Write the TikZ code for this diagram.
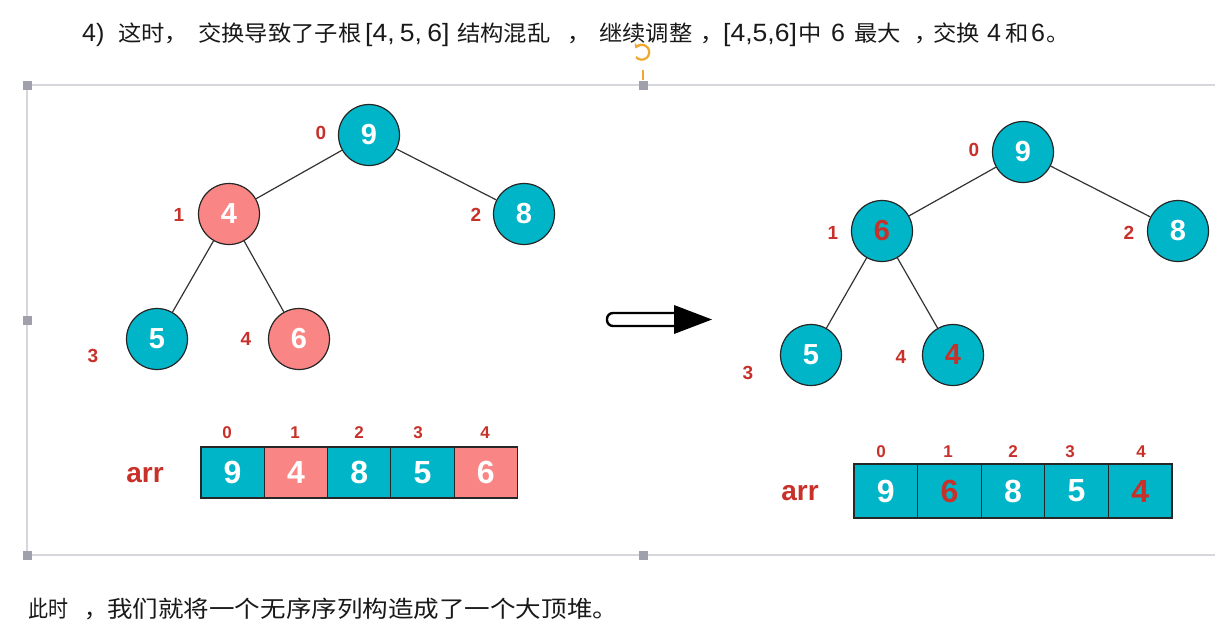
\documentclass[tikz,border=0pt]{standalone}
\usepackage{fontspec}
\setmainfont{Liberation Sans}
\newfontfamily\cjk{Noto Sans CJK SC}
\usepackage{graphicx}
\usetikzlibrary{arrows.meta}
\definecolor{heapteal}{RGB}{0,181,199}
\definecolor{heappink}{RGB}{250,133,133}
\definecolor{idxred}{RGB}{200,48,42}
\definecolor{framegray}{RGB}{214,214,220}
\definecolor{handlegray}{RGB}{160,160,172}
\definecolor{rotorange}{RGB}{242,168,48}
\newcommand\ttlcjk[1]{\scalebox{1.06}[1]{\cjk\fontsize{22}{22}\selectfont #1}}
\newcommand\ttllat[1]{{\fontsize{25}{25}\selectfont #1}}
\begin{document}
\begin{tikzpicture}[x=1pt,y=-1pt,
  hnode/.style={circle, draw=black!85, line width=1.2pt, minimum size=61pt, inner sep=0pt,
    font=\fontsize{29}{29}\selectfont\bfseries, text=white},
  tealnode/.style={hnode, fill=heapteal},
  pinknode/.style={hnode, fill=heappink},
  idx/.style={text=idxred, inner sep=0pt, font=\fontsize{19}{19}\selectfont\bfseries},
  aidx/.style={text=idxred, inner sep=0pt, font=\fontsize{17}{17}\selectfont\bfseries},
  edge/.style={draw=black!80, line width=1.2pt},
  cellL/.style={rectangle, draw=black!85, line width=1.2pt, minimum width=63.3pt, minimum height=51pt,
    inner sep=0pt, font=\fontsize{32}{32}\selectfont\bfseries, text=white},
  cellR/.style={rectangle, draw=black!85, line width=1.2pt, minimum width=63.6pt, minimum height=54pt,
    inner sep=0pt, font=\fontsize{32}{32}\selectfont\bfseries, text=white},
  arrlabel/.style={text=idxred, inner sep=0pt, font=\fontsize{28}{28}\selectfont\bfseries},
  frameline/.style={draw=framegray, line width=1.5pt},
  handle/.style={fill=handlegray},
  ttl/.style={anchor=base west, inner sep=0pt, text=black!90}
]
\useasboundingbox (0,0) rectangle (1215,633);
\fill[white] (0,0) rectangle (1215,633);

% selection frame
\draw[frameline] (27,85) -- (1215,85);
\draw[frameline] (27,555) -- (1215,555);
\draw[frameline] (27,85) -- (27,555);
\foreach \hx/\hy in {27/85,643/85,27/320,27/555,643/555}
  \fill[handle] (\hx-4.5,\hy-4.5) rectangle (\hx+4.5,\hy+4.5);
\draw[rotorange, line width=1.4pt] (643,70) -- (643,80);
\draw[rotorange, line width=2.2pt, -{Stealth[length=5pt,width=7pt]}] (636,57) arc[start angle=140, end angle=-150, radius=7.5];

% title (y = baseline)
\node[ttl] (t1) at (82,41) {\ttllat{4)}};
\node[ttl] (t2) at (118,41) {\ttlcjk{这时}};
\node[ttl] (c1) at (164,41) {\ttlcjk{，}};
\node[ttl] (t3) at (198,41) {\ttlcjk{交换导致了子根}};
\node[ttl] (t4) at (365,41) {\scalebox{1.06}[1]{\ttllat{[4,\hspace{5pt}5,\hspace{5pt}6]}}};
\node[ttl] (t5) at (457,41) {\ttlcjk{结构混乱}};
\node[ttl] (c2) at (567,41) {\ttlcjk{，}};
\node[ttl] (t6) at (599,41) {\ttlcjk{继续调整}};
\node[ttl] (c3) at (700,41) {\ttlcjk{，}};
\node[ttl] (t7) at (723,41) {\scalebox{1.06}[1]{\ttllat{[4,5,6]}}};
\node[ttl] (t8) at (798,41) {\ttlcjk{中}};
\node[ttl] (t9) at (831,41) {\ttllat{6}};
\node[ttl] (t10) at (854,41) {\ttlcjk{最大}};
\node[ttl] (c4) at (914,41) {\ttlcjk{，}};
\node[ttl] (t12) at (933,41) {\ttlcjk{交换}};
\node[ttl] (t13) at (987,41) {\ttllat{4}};
\node[ttl] (t14) at (1005,41) {\ttlcjk{和}};
\node[ttl] (t15) at (1031,41) {\ttllat{6}};
\node[ttl] (t16) at (1046,41) {\ttlcjk{。}};

% left tree
\node[tealnode] (L0) at (369,135) {9};
\node[pinknode] (L1) at (229,214) {4};
\node[tealnode] (L2) at (524,214) {8};
\node[tealnode] (L3) at (157,339) {5};
\node[pinknode] (L4) at (299,339) {6};
\draw[edge] (L0) -- (L1);
\draw[edge] (L0) -- (L2);
\draw[edge] (L1) -- (L3);
\draw[edge] (L1) -- (L4);
\node[idx] (Li0) at (321,133) {0};
\node[idx] (Li1) at (179,215) {1};
\node[idx] (Li2) at (476,215) {2};
\node[idx] (Li3) at (93,356) {3};
\node[idx] (Li4) at (246,339) {4};

% arrow
\draw[black, line width=2.4pt, fill=white, rounded corners=6pt] (678,313) -- (607,313) -- (607,326) -- (678,326);
\fill[black] (674,305) -- (712,319.5) -- (674,334) -- cycle;

% right tree
\node[tealnode] (R0) at (1023,152) {9};
\node[tealnode, text=idxred] (R1) at (882,231) {6};
\node[tealnode] (R2) at (1178,231) {8};
\node[tealnode] (R3) at (811,355) {5};
\node[tealnode, text=idxred] (R4) at (953,355) {4};
\draw[edge] (R0) -- (R1);
\draw[edge] (R0) -- (R2);
\draw[edge] (R1) -- (R3);
\draw[edge] (R1) -- (R4);
\node[idx] (Ri0) at (974,150) {0};
\node[idx] (Ri1) at (833,233) {1};
\node[idx] (Ri2) at (1129,233) {2};
\node[idx] (Ri3) at (748,373) {3};
\node[idx] (Ri4) at (901,357) {4};

% left array
\node[arrlabel] (La) at (145,475) {arr};
\node[cellL, fill=heapteal] (LA0) at (232.6,472.5) {9};
\node[cellL, fill=heappink] (LA1) at (295.9,472.5) {4};
\node[cellL, fill=heapteal] (LA2) at (359.2,472.5) {8};
\node[cellL, fill=heapteal] (LA3) at (422.5,472.5) {5};
\node[cellL, fill=heappink] (LA4) at (485.8,472.5) {6};
\node[aidx] (LAi0) at (227,433) {0};
\node[aidx] (LAi1) at (295,433) {1};
\node[aidx] (LAi2) at (359,433) {2};
\node[aidx] (LAi3) at (418,433) {3};
\node[aidx] (LAi4) at (485,433) {4};

% right array
\node[arrlabel] (Ra) at (800,493) {arr};
\node[cellR, fill=heapteal] (RA0) at (885.8,491) {9};
\node[cellR, fill=heapteal, text=idxred] (RA1) at (949.4,491) {6};
\node[cellR, fill=heapteal] (RA2) at (1013,491) {8};
\node[cellR, fill=heapteal] (RA3) at (1076.6,491) {5};
\node[cellR, fill=heapteal, text=idxred] (RA4) at (1140.2,491) {4};
\node[aidx] (RAi0) at (881,452) {0};
\node[aidx] (RAi1) at (948,452) {1};
\node[aidx] (RAi2) at (1013,452) {2};
\node[aidx] (RAi3) at (1070,452) {3};
\node[aidx] (RAi4) at (1141,452) {4};

% bottom text
\node[ttl] (f1) at (28,617) {\resizebox{40pt}{\height}{\cjk\fontsize{23}{23}\selectfont 此时}};
\node[ttl] (f2) at (84,617) {\cjk\fontsize{23}{23}\selectfont ，};
\node[ttl] (f3) at (107,617) {\resizebox{511pt}{\height}{\cjk\fontsize{23}{23}\selectfont 我们就将一个无序序列构造成了一个大顶堆。}};
\end{tikzpicture}
\end{document}
